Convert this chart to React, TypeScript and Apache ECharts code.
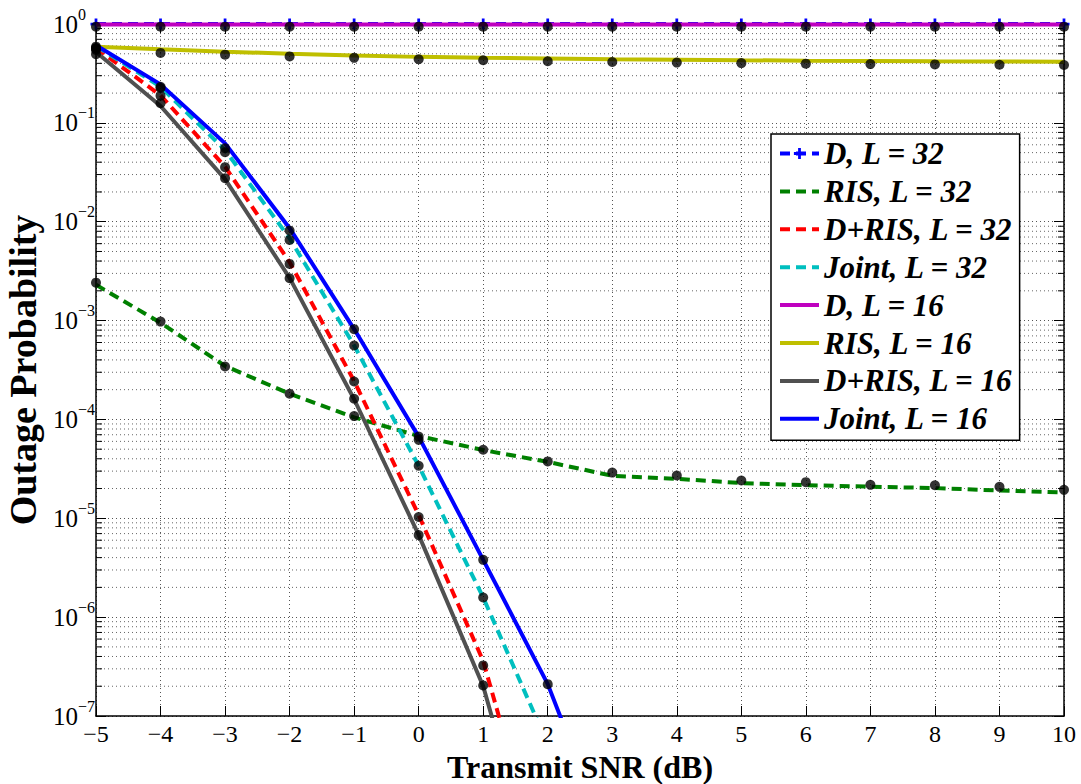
import React, { useEffect, useRef } from "react";
import * as echarts from "echarts";

const snr = [-5, -4, -3, -2, -1, 0, 1, 2, 3, 4, 5, 6, 7, 8, 9, 10];

// analytical curves
const dL32 = [1, 1, 1, 1, 1, 1, 1, 1, 1, 1, 1, 1, 1, 1, 1, 1];
const risL32 = [2.3e-3, 9.5e-4, 3.47e-4, 1.82e-4, 1.05e-4, 6.8e-5, 4.9e-5, 3.72e-5, 2.69e-5, 2.51e-5, 2.27e-5, 2.16e-5, 2.09e-5, 2.02e-5, 1.91e-5, 1.82e-5];
const drisL32 = [0.57, 0.19, 0.036, 0.0039, 2.45e-4, 1.08e-5, 3.6e-7, 1.8e-9, null, null, null, null, null, null, null, null];
const jointL32 = [0.6, 0.232, 0.053, 0.0068, 5.6e-4, 3.4e-5, 1.58e-6, 5.2e-8, null, null, null, null, null, null, null, null];
const dL16 = [0.99, 0.99, 0.99, 0.99, 0.99, 0.99, 0.99, 0.99, 0.99, 0.99, 0.99, 0.99, 0.99, 0.99, 0.99, 0.99];
const risL16 = [0.59, 0.555, 0.525, 0.5, 0.48, 0.465, 0.455, 0.447, 0.44, 0.435, 0.43, 0.426, 0.423, 0.42, 0.418, 0.416];
const drisL16 = [0.52, 0.148, 0.027, 0.0027, 1.6e-4, 6.8e-6, 2.0e-7, 1e-9, null, null, null, null, null, null, null, null];
const jointL16 = [0.61, 0.245, 0.062, 0.0086, 8.2e-4, 6.7e-5, 3.8e-6, 2.1e-7, 4.4e-9, null, null, null, null, null, null, null];

// simulation points (black dots)
const simD = [0.94, 0.94, 0.94, 0.94, 0.94, 0.94, 0.94, 0.94, 0.94, 0.94, 0.94, 0.94, 0.94, 0.94, 0.94, 0.94];
const simRisL32 = [2.42e-3, 9.77e-4, 3.43e-4, 1.82e-4, 1.08e-4, 6.22e-5, 4.93e-5, 3.76e-5, 2.9e-5, 2.71e-5, 2.41e-5, 2.32e-5, 2.18e-5, 2.16e-5, 2.08e-5, 1.94e-5];
const simRisL16 = [0.57, 0.51, 0.49, 0.47, 0.455, 0.44, 0.43, 0.42, 0.413, 0.407, 0.402, 0.397, 0.393, 0.39, 0.387, 0.385];
const simDrisL32 = [0.546, 0.188, 0.0356, 0.00374, 2.42e-4, 1.03e-5, 3.25e-7, null, null, null, null, null, null, null, null, null];
const simDrisL16 = [0.494, 0.158, 0.0275, 0.00268, 1.62e-4, 6.76e-6, 2.04e-7, null, null, null, null, null, null, null, null, null];
const simJointL32 = [0.57, 0.225, 0.0504, 0.00655, 5.59e-4, 3.4e-5, 1.58e-6, null, null, null, null, null, null, null, null, null];
const simJointL16 = [0.59, 0.232, 0.0553, 0.00813, 8.18e-4, 6.71e-5, 3.8e-6, 2.1e-7, null, null, null, null, null, null, null, null];

const minorY = [
  2e-7, 3e-7, 4e-7, 5e-7, 6e-7, 7e-7, 8e-7, 9e-7,
  2e-6, 3e-6, 4e-6, 5e-6, 6e-6, 7e-6, 8e-6, 9e-6,
  2e-5, 3e-5, 4e-5, 5e-5, 6e-5, 7e-5, 8e-5, 9e-5,
  2e-4, 3e-4, 4e-4, 5e-4, 6e-4, 7e-4, 8e-4, 9e-4,
  2e-3, 3e-3, 4e-3, 5e-3, 6e-3, 7e-3, 8e-3, 9e-3,
  2e-2, 3e-2, 4e-2, 5e-2, 6e-2, 7e-2, 8e-2, 9e-2,
  0.2, 0.3, 0.4, 0.5, 0.6, 0.7, 0.8, 0.9,
];

const legendNames = [
  "D, L = 32", "RIS, L = 32", "D+RIS, L = 32", "Joint, L = 32",
  "D, L = 16", "RIS, L = 16", "D+RIS, L = 16", "Joint, L = 16",
];

const FONT = "'Liberation Serif', 'Times New Roman', serif";
const PLUS = "path://M-1,-4H1V-1H4V1H1V4H-1V1H-4V-1H-1Z";

const zip = (ys: (number | null)[]) => snr.map((x, i) => [x, ys[i]]);
const zipSim = (ys: (number | null)[]) =>
  snr.map((x, i) => [x, ys[i]]).filter((p) => p[1] !== null);

function minus(n: number) {
  return n < 0 ? "\u2212" + Math.abs(n) : String(n);
}

export default function App() {
  const ref = useRef<HTMLDivElement>(null);
  useEffect(() => {
    if (!ref.current) return;
    const chart = echarts.init(ref.current, null, { renderer: "svg" });
    const lineSeries = (name: string, ys: (number | null)[], color: string, dashed: boolean, z: number, extra: any = {}) => ({
      name,
      type: "line",
      data: zip(ys),
      showSymbol: false,
      symbol: "none",
      connectNulls: false,
      clip: true,
      z,
      lineStyle: { color, width: 4, type: dashed ? [10, 6] : "solid" },
      itemStyle: { color },
      ...extra,
    });
    const simSeries = (ys: (number | null)[]) => ({
      name: "sim",
      type: "scatter",
      data: zipSim(ys),
      symbol: "circle",
      symbolSize: 10,
      itemStyle: { color: "#000" },
      z: 20,
      silent: true,
    });
    const option: any = {
      animation: false,
      backgroundColor: "#fff",
      grid: { left: 96, top: 24, width: 968, height: 692, containLabel: false, outerBoundsMode: "none" },
      xAxis: [
        {
          type: "value",
          min: -5,
          max: 10,
          interval: 1,
          position: "bottom",
          axisLine: { show: true, onZero: false, lineStyle: { color: "#000", width: 1.5 } },
          axisTick: { show: true, inside: true, length: 10, lineStyle: { color: "#000", width: 1 } },
          axisLabel: {
            show: true,
            margin: 6,
            fontFamily: FONT,
            fontSize: 24,
            color: "#000",
            formatter: (v: number) => minus(v),
          },
          splitLine: { show: true, lineStyle: { color: "#555", width: 1, type: [1, 3] } },
          name: "Transmit SNR (dB)",
          nameLocation: "middle",
          nameGap: 35,
          nameTextStyle: { fontFamily: FONT, fontSize: 32, fontWeight: "bold", color: "#000" },
        },
        {
          type: "value",
          min: -5,
          max: 10,
          interval: 1,
          position: "top",
          axisLine: { show: true, onZero: false, lineStyle: { color: "#000", width: 1.5 } },
          axisTick: { show: true, inside: true, length: 10, lineStyle: { color: "#000", width: 1 } },
          axisLabel: { show: false },
          splitLine: { show: false },
        },
      ],
      yAxis: [
        {
          type: "log",
          logBase: 10,
          min: 1e-7,
          max: 1,
          interval: 1,
          position: "left",
          axisLine: { show: true, onZero: false, lineStyle: { color: "#000", width: 1.5 } },
          axisTick: { show: true, inside: true, length: 10, lineStyle: { color: "#000", width: 1 } },
          axisLabel: {
            show: true,
            align: "left",
            margin: 43,
            color: "#000",
            formatter: (v: number) => {
              const e = Math.round(Math.log10(v));
              return "{b|10}{s|" + minus(e) + "}";
            },
            rich: {
              b: { fontFamily: FONT, fontSize: 25, lineHeight: 25, color: "#000" },
              s: { fontFamily: FONT, fontSize: 16, lineHeight: 16, color: "#000", padding: [0, 0, 20, 0] },
            },
          },
          splitLine: { show: true, lineStyle: { color: "#555", width: 1, type: [1, 3] } },
          name: "Outage Probability",
          nameLocation: "middle",
          nameGap: 52,
          nameTextStyle: { fontFamily: FONT, fontSize: 38, fontWeight: "bold", color: "#000" },
        },
        {
          type: "log",
          logBase: 10,
          min: 1e-7,
          max: 1,
          interval: 1,
          position: "right",
          axisLine: { show: true, onZero: false, lineStyle: { color: "#000", width: 1.5 } },
          axisTick: { show: true, inside: true, length: 10, lineStyle: { color: "#000", width: 1 } },
          axisLabel: { show: false },
          splitLine: { show: false },
        },
      ],
      legend: {
        orient: "vertical",
        left: 771,
        top: 134,
        padding: [4, 7, 6, 7],
        itemGap: 6.9,
        itemWidth: 39,
        itemHeight: 14,
        backgroundColor: "#fff",
        borderColor: "#000",
        borderWidth: 1.5,
        borderRadius: 0,
        lineStyle: { width: 4 },
        textStyle: {
          fontFamily: FONT,
          fontSize: 31,
          lineHeight: 31,
          fontWeight: "bold",
          fontStyle: "italic",
          color: "#000",
        },
        data: legendNames.map((n, i) => (i === 0 ? { name: n } : { name: n, itemStyle: { opacity: 0 } })),
        selectedMode: false,
        z: 30,
      },
      series: [
        {
          name: "minor",
          type: "custom",
          data: minorY.map((v) => [-5, v]),
          encode: { x: 0, y: 1 },
          z: 1,
          silent: true,
          clip: false,
          renderItem: (params: any, api: any) => {
            const v = api.value(1);
            const p0 = api.coord([-5, v]);
            const p1 = api.coord([10, v]);
            return {
              type: "group",
              children: [
                { type: "line", shape: { x1: p0[0], y1: p0[1], x2: p1[0], y2: p1[1] }, style: { stroke: "#666", lineWidth: 1, lineDash: [1, 3] } },
                { type: "line", shape: { x1: p0[0], y1: p0[1], x2: p0[0] + 6, y2: p0[1] }, style: { stroke: "#000", lineWidth: 1 } },
                { type: "line", shape: { x1: p1[0] - 6, y1: p1[1], x2: p1[0], y2: p1[1] }, style: { stroke: "#000", lineWidth: 1 } },
              ],
            };
          },
        },
        lineSeries(legendNames[0], dL32, "#0000ff", true, 3, {
          showSymbol: true,
          symbol: PLUS,
          symbolSize: 11,
        }),
        lineSeries(legendNames[1], risL32, "#008000", true, 3),
        lineSeries(legendNames[2], drisL32, "#ff0000", true, 3),
        lineSeries(legendNames[3], jointL32, "#00bfbf", true, 3),
        lineSeries(legendNames[4], dL16, "#bf00bf", false, 4),
        lineSeries(legendNames[5], risL16, "#bfbf00", false, 4),
        lineSeries(legendNames[6], drisL16, "#505050", false, 4),
        lineSeries(legendNames[7], jointL16, "#0000ff", false, 4),
        simSeries(simD),
        simSeries(simRisL32),
        simSeries(simRisL16),
        simSeries(simDrisL32),
        simSeries(simDrisL16),
        simSeries(simJointL32),
        simSeries(simJointL16),
      ],
    };
    chart.setOption(option);
    return () => chart.dispose();
  }, []);
  return (
    <div
      ref={ref}
      style={{ position: "fixed", left: 0, top: 0, width: 1081, height: 784, background: "#fff" }}
    />
  );
}
